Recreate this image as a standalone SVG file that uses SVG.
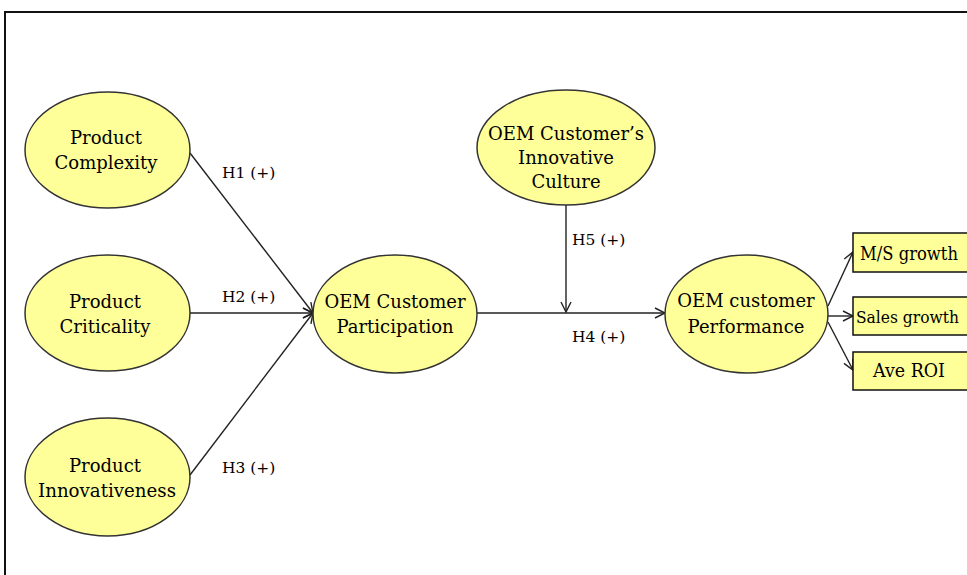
<svg xmlns="http://www.w3.org/2000/svg" width="967" height="575" viewBox="0 0 967 575">
<defs>
<marker id="arr" viewBox="0 0 12 12" refX="11" refY="6" markerWidth="12" markerHeight="12" markerUnits="userSpaceOnUse" orient="auto">
<path d="M1,1 L11,6 L1,11" fill="none" stroke="#222" stroke-width="1.4"/>
</marker>
<style>
.n{fill:#FFFF99;stroke:#333;stroke-width:1.5}
.b{fill:#FFFF99;stroke:#111;stroke-width:1.5}
.t{font-family:"DejaVu Serif","Liberation Serif",serif;font-size:18px;fill:#000;text-anchor:middle}
.l{font-family:"DejaVu Serif","Liberation Serif",serif;font-size:15.5px;fill:#000}
.c{fill:none;stroke:#222;stroke-width:1.4;marker-end:url(#arr)}
</style>
</defs>
<rect x="0" y="0" width="967" height="575" fill="#fff"/>
<rect x="5" y="12" width="980" height="600" fill="none" stroke="#111" stroke-width="2"/>
<g id="connectors">
<line class="c" x1="190" y1="153" x2="313" y2="313"/>
<line class="c" x1="190" y1="313" x2="313" y2="313"/>
<line class="c" x1="190" y1="475" x2="313" y2="313"/>
<line class="c" x1="477" y1="313" x2="665" y2="313"/>
<line class="c" x1="566" y1="205" x2="566" y2="312"/>
<line class="c" x1="828" y1="306" x2="853" y2="252"/>
<line class="c" x1="828" y1="316" x2="853" y2="316"/>
<line class="c" x1="828" y1="322" x2="853" y2="370"/>
<text class="l" x="222" y="178">H1 (+)</text>
<text class="l" x="222" y="302">H2 (+)</text>
<text class="l" x="222" y="473">H3 (+)</text>
<text class="l" x="572" y="245">H5 (+)</text>
<text class="l" x="572" y="342">H4 (+)</text>
</g>
<g id="complexity">
<ellipse class="n" cx="107.5" cy="150" rx="82.5" ry="58"/>
<text class="t" x="106" y="144">Product</text>
<text class="t" x="106" y="169">Complexity</text>
</g>
<g id="criticality">
<ellipse class="n" cx="107.5" cy="313" rx="82.5" ry="58"/>
<text class="t" x="105" y="308">Product</text>
<text class="t" x="105" y="333">Criticality</text>
</g>
<g id="innovativeness">
<ellipse class="n" cx="107.5" cy="477" rx="82.5" ry="59"/>
<text class="t" x="105" y="472">Product</text>
<text class="t" x="107" y="497" textLength="138" lengthAdjust="spacingAndGlyphs">Innovativeness</text>
</g>
<g id="participation">
<ellipse class="n" cx="395" cy="314" rx="82" ry="59"/>
<text class="t" x="395" y="308">OEM Customer</text>
<text class="t" x="395" y="333">Participation</text>
</g>
<g id="culture">
<ellipse class="n" cx="566" cy="147.5" rx="89" ry="57.5"/>
<text class="t" x="566" y="140">OEM Customer’s</text>
<text class="t" x="566" y="164">Innovative</text>
<text class="t" x="566" y="188">Culture</text>
</g>
<g id="performance">
<ellipse class="n" cx="746.5" cy="314" rx="81.5" ry="59"/>
<text class="t" x="746" y="307">OEM customer</text>
<text class="t" x="746" y="333">Performance</text>
</g>
<g id="ms">
<rect class="b" x="853" y="233" width="130" height="39"/>
<text class="t" x="860" y="260" style="text-anchor:start" textLength="98" lengthAdjust="spacingAndGlyphs">M/S growth</text>
</g>
<g id="sales">
<rect class="b" x="853" y="297" width="130" height="38"/>
<text class="t" x="856" y="323" style="text-anchor:start;font-size:16px" textLength="103" lengthAdjust="spacingAndGlyphs">Sales growth</text>
</g>
<g id="roi">
<rect class="b" x="853" y="352" width="130" height="38"/>
<text class="t" x="873" y="377" style="text-anchor:start" textLength="72" lengthAdjust="spacingAndGlyphs">Ave ROI</text>
</g>
</svg>
